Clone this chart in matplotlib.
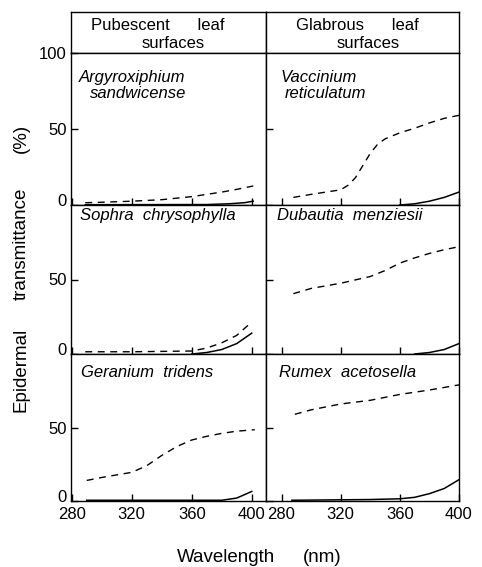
import matplotlib.pyplot as plt
import matplotlib.transforms as mtrans

plt.rcParams['font.family'] = ['Liberation Sans', 'DejaVu Sans']

# wavelength (nm) and epidermal transmittance (%)
# dashed and solid curves for each species

arg_wl_d = [289, 300, 320, 340, 360, 380, 390, 401]
arg_d = [1.5, 1.8, 2.5, 3.5, 5.5, 8.5, 10.3, 12.5]
arg_wl_s = [289, 370, 385, 395, 401]
arg_s = [0.2, 0.3, 0.8, 1.5, 2.5]

vac_wl_d = [288, 300, 310, 320, 325, 330, 335, 340, 345, 350, 355, 360, 370, 380, 390, 400]
vac_d = [5, 7, 8.5, 10, 13, 18, 26, 34, 40, 43.5, 45.5, 47.5, 50.5, 54, 57, 59]
vac_wl_s = [360, 370, 380, 390, 400]
vac_s = [0, 0.8, 2.5, 5, 8.5]

sop_wl_d = [289, 320, 360, 370, 380, 390, 400]
sop_d = [1.5, 1.5, 2, 4, 7.5, 12.5, 21.5]
sop_wl_s = [360, 370, 380, 390, 400]
sop_s = [0, 1, 3, 7, 14]

dub_wl_d = [288, 300, 320, 340, 350, 360, 370, 380, 390, 400]
dub_d = [40.5, 44, 47.5, 52, 56, 61, 64.5, 67.5, 70, 72]
dub_wl_s = [370, 380, 390, 400]
dub_s = [0, 1, 3, 7]

ger_wl_d = [290, 300, 320, 330, 340, 350, 360, 370, 380, 390, 402]
ger_d = [14, 16, 19.5, 24, 31, 37, 41.5, 44, 46, 47.5, 48.5]
ger_wl_s = [290, 380, 390, 400]
ger_s = [0.5, 0.5, 2, 6.5]

rum_wl_d = [289, 300, 320, 340, 360, 380, 400]
rum_d = [59, 62, 66, 68.5, 72.5, 75.5, 79]
rum_wl_s = [287, 340, 360, 370, 380, 390, 400]
rum_s = [0.5, 1, 1.5, 2.5, 5, 8.5, 14.5]

W, H = 482, 567
fig = plt.figure(figsize=(W/100, H/100), dpi=100)

def frac(x0, y0, x1, y1):
    # pixel box (top-left origin) -> figure fraction rect
    return [x0/W, 1 - y1/H, (x1 - x0)/W, (y1 - y0)/H]

def ftext(x, y, s, **kw):
    # text placed in pixels from the top-left corner
    return fig.text(x/W, 1 - y/H, s, **kw)

cols = [(71, 266), (266, 459)]
rows = [(53, 205), (205, 354), (354, 501)]
xlims = [(279.5, 409.5), (269.5, 400)]

panels = [
    (arg_wl_d, arg_d, arg_wl_s, arg_s),
    (vac_wl_d, vac_d, vac_wl_s, vac_s),
    (sop_wl_d, sop_d, sop_wl_s, sop_s),
    (dub_wl_d, dub_d, dub_wl_s, dub_s),
    (ger_wl_d, ger_d, ger_wl_s, ger_s),
    (rum_wl_d, rum_d, rum_wl_s, rum_s),
]

# header cells
for x0, x1 in cols:
    hax = fig.add_axes(frac(x0, 12, x1, 53))
    hax.set_xticks([])
    hax.set_yticks([])
    for s in hax.spines.values():
        s.set_linewidth(1.0)
ftext(158, 25, 'Pubescent      leaf', ha='center', va='center', fontsize=12)
ftext(173, 43, 'surfaces', ha='center', va='center', fontsize=12)
ftext(357, 25, 'Glabrous      leaf', ha='center', va='center', fontsize=12)
ftext(368, 43, 'surfaces', ha='center', va='center', fontsize=12)

up = mtrans.ScaledTranslation(0, 3.5/72, fig.dpi_scale_trans)

for i, (wl_d, td, wl_s, ts) in enumerate(panels):
    ir, ic = divmod(i, 2)
    x0, x1 = cols[ic]
    y0, y1 = rows[ir]
    ax = fig.add_axes(frac(x0, y0, x1, y1))
    ax.plot(wl_d, td, color='black', lw=1.0, linestyle=(0, (5, 4)))
    ax.plot(wl_s, ts, color='black', lw=1.1)
    ax.set_xlim(*xlims[ic])
    ax.set_ylim(0, 100)
    ax.set_xticks([280, 320, 360, 400])
    if ir == 0 and ic == 0:
        ax.set_yticks([0, 50, 100])
    else:
        ax.set_yticks([0, 50])
    ax.tick_params(direction='in', length=5, width=1.0, labelsize=12, pad=4)
    ax.tick_params(axis='y', pad=3)
    if ir < 2:
        ax.tick_params(labelbottom=False)
    if ic == 1:
        ax.tick_params(labelleft=False)
    # the zero labels sit a little above the axis line
    t0 = ax.yaxis.get_major_ticks()[0]
    t0.label1.set_transform(t0.label1.get_transform() + up)
    for s in ax.spines.values():
        s.set_linewidth(1.0)

# species names
sp = dict(ha='left', va='top', fontsize=12, style='italic')
ftext(79, 70, 'Argyroxiphium', **sp)
ftext(90, 86, 'sandwicense', **sp)
ftext(281, 70, 'Vaccinium', **sp)
ftext(285, 86, 'reticulatum', **sp)
ftext(80, 208, 'Sophra  chrysophylla', **sp)
ftext(277, 208, 'Dubautia  menziesii', **sp)
ftext(81, 365, 'Geranium  tridens', **sp)
ftext(279, 365, 'Rumex  acetosella', **sp)

# axis titles
lab = dict(ha='center', va='center', fontsize=13.5)
ftext(21, 370, 'Epidermal', rotation=90, **lab)
ftext(21, 244, 'transmittance', rotation=90, **lab)
ftext(21, 138, '(%)', rotation=90, **lab)
ftext(226, 558, 'Wavelength', **lab)
ftext(322, 558, '(nm)', **lab)

fig.savefig('out.png', dpi=100)
